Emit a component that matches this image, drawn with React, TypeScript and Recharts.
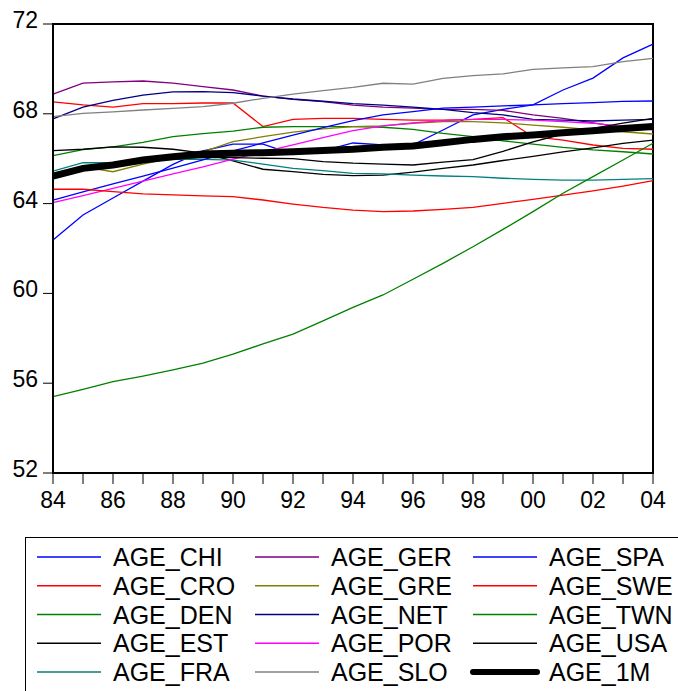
import React from 'react';
import { LineChart, Line, XAxis, YAxis, ReferenceArea } from 'recharts';

// yearly observations, 1984-2004
const YEARS = [
  1984, 1985, 1986, 1987, 1988, 1989, 1990, 1991, 1992, 1993, 1994,
  1995, 1996, 1997, 1998, 1999, 2000, 2001, 2002, 2003, 2004,
];

const AGE_CHI = [62.38, 63.49, 64.25, 65.0, 65.75, 66.35, 66.65, 66.65, 66.2, 66.35, 66.7, 66.62, 66.62, 67.28, 67.95, 68.2, 68.4, 69.06, 69.59, 70.49, 71.1];
const AGE_CRO = [68.53, 68.4, 68.3, 68.45, 68.45, 68.48, 68.48, 67.43, 67.75, 67.8, 67.8, 67.75, 67.72, 67.72, 67.75, 67.83, 66.98, 66.83, 66.61, 66.46, 66.42];
const AGE_DEN = [66.14, 66.4, 66.53, 66.73, 66.98, 67.12, 67.23, 67.4, 67.43, 67.43, 67.43, 67.4, 67.31, 67.13, 66.98, 66.8, 66.65, 66.5, 66.39, 66.31, 66.21];
const AGE_EST = [66.36, 66.42, 66.53, 66.51, 66.42, 66.25, 65.9, 65.53, 65.42, 65.3, 65.25, 65.27, 65.4, 65.57, 65.72, 65.92, 66.1, 66.3, 66.48, 66.68, 66.83];
const AGE_FRA = [65.45, 65.82, 65.82, 65.91, 65.97, 65.97, 65.94, 65.76, 65.57, 65.47, 65.35, 65.32, 65.27, 65.23, 65.2, 65.13, 65.08, 65.05, 65.05, 65.08, 65.11];
const AGE_GER = [68.88, 69.37, 69.42, 69.46, 69.37, 69.21, 69.06, 68.79, 68.64, 68.54, 68.39, 68.3, 68.25, 68.2, 68.2, 68.15, 67.95, 67.8, 67.6, 67.4, 67.35];
const AGE_GRE = [65.35, 65.64, 65.42, 65.76, 66.05, 66.3, 66.76, 66.98, 67.18, 67.33, 67.43, 67.46, 67.58, 67.65, 67.65, 67.6, 67.5, 67.4, 67.28, 67.2, 67.1];
const AGE_NET = [67.77, 68.3, 68.6, 68.83, 68.98, 68.99, 68.94, 68.79, 68.66, 68.56, 68.45, 68.39, 68.3, 68.2, 68.05, 67.95, 67.75, 67.72, 67.68, 67.72, 67.75];
const AGE_POR = [64.04, 64.36, 64.68, 65.0, 65.32, 65.64, 65.98, 66.3, 66.62, 66.94, 67.25, 67.46, 67.6, 67.7, 67.75, 67.75, 67.72, 67.65, 67.58, 67.43, 67.28];
const AGE_SLO = [67.87, 68.02, 68.09, 68.17, 68.24, 68.32, 68.47, 68.69, 68.88, 69.03, 69.18, 69.36, 69.32, 69.58, 69.7, 69.78, 69.98, 70.05, 70.1, 70.32, 70.47];
const AGE_SPA = [64.16, 64.52, 64.88, 65.22, 65.58, 65.95, 66.35, 66.7, 67.05, 67.38, 67.7, 67.95, 68.1, 68.25, 68.3, 68.35, 68.4, 68.45, 68.5, 68.55, 68.57];
const AGE_SWE = [64.64, 64.64, 64.53, 64.43, 64.39, 64.34, 64.31, 64.16, 63.98, 63.83, 63.71, 63.64, 63.67, 63.74, 63.83, 64.01, 64.19, 64.38, 64.57, 64.78, 65.02];
const AGE_TWN = [55.4, 55.73, 56.07, 56.32, 56.59, 56.89, 57.3, 57.75, 58.19, 58.78, 59.38, 59.93, 60.63, 61.34, 62.08, 62.85, 63.64, 64.46, 65.2, 65.94, 66.69];
const AGE_USA = [65.25, 65.55, 65.72, 65.9, 66.0, 66.05, 66.05, 66.02, 66.0, 65.87, 65.8, 65.76, 65.72, 65.85, 65.96, 66.33, 66.75, 67.1, 67.35, 67.58, 67.8];
const AGE_1M = [65.22, 65.57, 65.72, 65.94, 66.09, 66.21, 66.24, 66.27, 66.31, 66.36, 66.42, 66.51, 66.57, 66.71, 66.86, 66.98, 67.06, 67.16, 67.25, 67.35, 67.43];

const Y_TICKS = [52, 56, 60, 64, 68, 72];

const SERIES = [
  { key: 'AGE_CHI', values: AGE_CHI, color: '#0000FF', width: 1.3 },
  { key: 'AGE_CRO', values: AGE_CRO, color: '#FF0000', width: 1.3 },
  { key: 'AGE_DEN', values: AGE_DEN, color: '#008000', width: 1.3 },
  { key: 'AGE_EST', values: AGE_EST, color: '#000000', width: 1.3 },
  { key: 'AGE_FRA', values: AGE_FRA, color: '#008080', width: 1.3 },
  { key: 'AGE_GER', values: AGE_GER, color: '#800080', width: 1.3 },
  { key: 'AGE_GRE', values: AGE_GRE, color: '#808000', width: 1.3 },
  { key: 'AGE_NET', values: AGE_NET, color: '#000080', width: 1.3 },
  { key: 'AGE_POR', values: AGE_POR, color: '#FF00FF', width: 1.3 },
  { key: 'AGE_SLO', values: AGE_SLO, color: '#808080', width: 1.3 },
  { key: 'AGE_SPA', values: AGE_SPA, color: '#0000FF', width: 1.3 },
  { key: 'AGE_SWE', values: AGE_SWE, color: '#FF0000', width: 1.3 },
  { key: 'AGE_TWN', values: AGE_TWN, color: '#008000', width: 1.3 },
  { key: 'AGE_USA', values: AGE_USA, color: '#000000', width: 1.3 },
  { key: 'AGE_1M', values: AGE_1M, color: '#000000', width: 7 },
];

const rows = YEARS.map((year, i) => {
  const row: Record<string, number> = { year };
  SERIES.forEach((s) => { row[s.key] = s.values[i]; });
  return row;
});

const FONT = '"Liberation Sans", Arial, Helvetica, sans-serif';

const YTick = ({ x, y, payload }: any) => (
  <text x={x} y={y + 4} textAnchor="end" fontSize={23} fontFamily={FONT} fill="#000">
    {payload.value}
  </text>
);

// every year gets a tick mark, only even years get a label
const XTick = ({ x, y, payload }: any) => {
  const yr = payload.value as number;
  if (yr % 2 !== 0) return <g />;
  return (
    <text x={x} y={y + 16} textAnchor="middle" fontSize={23} fontFamily={FONT} fill="#000">
      {String(yr % 100).padStart(2, '0')}
    </text>
  );
};

function LegendBox() {
  return (
    <div
      style={{
        position: 'absolute', left: 25, top: 537, width: 700, height: 200,
        border: '1.5px solid #000', boxSizing: 'border-box',
      }}
    >
      <svg width={700} height={200} style={{ position: 'absolute', left: -1.5, top: -1.5 }}>
        {SERIES.map((s, i) => {
          const col = Math.floor(i / 5);
          const row = i % 5;
          const x0 = 12 + col * 218;
          const cy = 20 + row * 28.75;
          return (
            <g key={s.key}>
              <line x1={x0} x2={x0 + 64} y1={cy} y2={cy} stroke={s.color}
                strokeWidth={s.width > 2 ? 6 : 1.5} strokeLinecap={s.width > 2 ? 'round' : 'butt'} />
              <text x={x0 + 76} y={cy + 9} fontSize={25} fontFamily={FONT} fill="#000">{s.key}</text>
            </g>
          );
        })}
      </svg>
    </div>
  );
}

export default function App() {
  return (
    <div style={{ position: 'fixed', left: 0, top: 0, width: 678, height: 691, overflow: 'hidden', background: '#fff' }}>
      <LineChart width={678} height={520} data={rows} margin={{ top: 24, right: 25, left: 0, bottom: 0 }}>
        <XAxis
          dataKey="year" type="number" domain={[1984, 2004]} ticks={YEARS} interval={0}
          height={47} tickSize={11} tickMargin={8} tick={<XTick />}
          axisLine={{ stroke: '#000', strokeWidth: 2 }} tickLine={{ stroke: '#000', strokeWidth: 1 }}
        />
        <YAxis
          type="number" domain={[52, 72]} ticks={Y_TICKS} interval={0}
          width={53} tickSize={10} tickMargin={5} tick={<YTick />}
          axisLine={{ stroke: '#000', strokeWidth: 2 }} tickLine={{ stroke: '#000', strokeWidth: 1 }}
        />
        <ReferenceArea x1={1984} x2={2004} y1={52} y2={72} fill="none" stroke="#000" strokeWidth={2} />
        {SERIES.map((s) => (
          <Line key={s.key} type="linear" dataKey={s.key} stroke={s.color} strokeWidth={s.width}
            dot={false} activeDot={false} isAnimationActive={false} />
        ))}
      </LineChart>
      <LegendBox />
    </div>
  );
}
